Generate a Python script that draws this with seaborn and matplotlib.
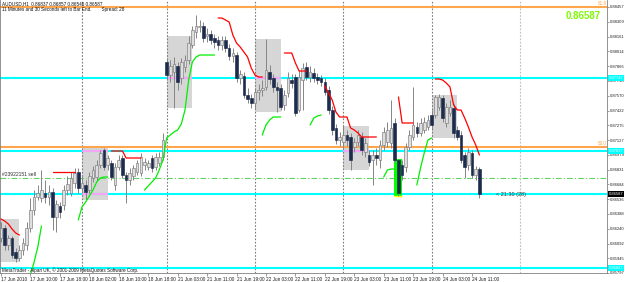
import numpy as np
import pandas as pd
import matplotlib
matplotlib.use("Agg")
import matplotlib.pyplot as plt
import matplotlib.transforms as mtransforms
from matplotlib.patches import Rectangle
import seaborn as sns

# ---------------- data ----------------
title_text = "AUDUSD,H1  0.86837 0.86857 0.86546 0.86587"
timer_text = "11 Minutes and 30 Seconds left to Bar End.        Spread: 28"
footer_text = "MetaTrader - Alpari UK, \u00a9 2001-2009 MetaQuotes Software Corp."
order_text = "#23922151 sell"
countdown_text = "< 21:30 (28)"
bid = 0.86587

open_ = [0.86147, 0.86247, 0.86077, 0.86147, 0.86007, 0.85947, 0.86027, 0.86077, 0.86247, 0.86427,
         0.86557, 0.86547, 0.86597, 0.86557, 0.86607, 0.86357, 0.86467, 0.86477, 0.86627, 0.86597,
         0.86697, 0.86807, 0.86647, 0.86677, 0.86627, 0.86747, 0.86757, 0.86877, 0.87027, 0.86877,
         0.86897, 0.86677, 0.86857, 0.86947, 0.86777, 0.86727, 0.86767, 0.86807, 0.86797, 0.86877,
         0.86857, 0.86947, 0.86857, 0.86897, 0.86957, 0.87907, 0.87777, 0.87807, 0.87867, 0.87747,
         0.87857, 0.87927, 0.88077, 0.88207, 0.88257, 0.88267, 0.88167, 0.88187, 0.88147, 0.88127,
         0.88077, 0.88127, 0.88047, 0.87967, 0.87977, 0.87747, 0.87767, 0.87577, 0.87547, 0.87497,
         0.87607, 0.87627, 0.87657, 0.87807, 0.87747, 0.87657, 0.87647, 0.87477, 0.87597, 0.87727,
         0.87757, 0.87427, 0.87727, 0.87857, 0.87757, 0.87797, 0.87757, 0.87747, 0.87707, 0.87627,
         0.87427, 0.87247, 0.87127, 0.87107, 0.87177, 0.87157, 0.87057, 0.87107, 0.87157, 0.87007,
         0.86977, 0.86927, 0.86977, 0.86927, 0.87077, 0.87107, 0.87097, 0.87297, 0.86927, 0.86877,
         0.86857, 0.87057, 0.87157, 0.87257, 0.87197, 0.87227, 0.87257, 0.87377, 0.87377, 0.87457,
         0.87547, 0.87297, 0.87397, 0.87447, 0.87227, 0.87177, 0.86977, 0.86877, 0.86997, 0.86777,
         0.86837]
high = [0.86307, 0.86277, 0.86177, 0.86167, 0.86047, 0.86077, 0.86147, 0.86307, 0.86547, 0.86627,
        0.86677, 0.86827, 0.86727, 0.86677, 0.86647, 0.86527, 0.86507, 0.86677, 0.86767, 0.86807,
        0.86847, 0.86847, 0.86777, 0.86727, 0.86807, 0.86867, 0.86927, 0.87027, 0.87047, 0.86977,
        0.86927, 0.86897, 0.86977, 0.86977, 0.86807, 0.86847, 0.86877, 0.86927, 0.86997, 0.86947,
        0.86927, 0.86977, 0.86997, 0.87007, 0.87197, 0.87947, 0.87927, 0.87957, 0.87907, 0.87947,
        0.87977, 0.88167, 0.88267, 0.88377, 0.88327, 0.88307, 0.88247, 0.88227, 0.88187, 0.88167,
        0.88167, 0.88167, 0.88087, 0.88047, 0.88007, 0.87827, 0.87807, 0.87647, 0.87587, 0.87647,
        0.87687, 0.87727, 0.88137, 0.87877, 0.87787, 0.87707, 0.87687, 0.87627, 0.87807, 0.87787,
        0.87787, 0.87827, 0.87897, 0.87907, 0.87867, 0.87847, 0.87797, 0.87777, 0.87747, 0.87667,
        0.87467, 0.87287, 0.87207, 0.87267, 0.87227, 0.87197, 0.87147, 0.87227, 0.87207, 0.87147,
        0.87027, 0.87027, 0.87047, 0.87127, 0.87257, 0.87307, 0.87527, 0.87347, 0.86937, 0.86927,
        0.87097, 0.87227, 0.87657, 0.87307, 0.87347, 0.87357, 0.87377, 0.87427, 0.87577, 0.87587,
        0.87577, 0.87497, 0.87527, 0.87487, 0.87267, 0.87217, 0.87007, 0.87047, 0.87027, 0.86867,
        0.86857]
low = [0.86107, 0.86027, 0.86027, 0.85947, 0.85907, 0.85917, 0.85977, 0.86027, 0.86207, 0.86377,
       0.86527, 0.86507, 0.86497, 0.86477, 0.86227, 0.86207, 0.86347, 0.86427, 0.86577, 0.86567,
       0.86647, 0.86597, 0.86597, 0.86527, 0.86597, 0.86707, 0.86727, 0.86847, 0.86827, 0.86827,
       0.86727, 0.86627, 0.86827, 0.86747, 0.86497, 0.86677, 0.86727, 0.86777, 0.86767, 0.86827,
       0.86827, 0.86807, 0.86827, 0.86867, 0.86927, 0.87727, 0.87707, 0.87447, 0.87627, 0.87687,
       0.87807, 0.87887, 0.88047, 0.88147, 0.88207, 0.88107, 0.88107, 0.88087, 0.88047, 0.88027,
       0.88027, 0.88007, 0.87927, 0.87907, 0.87707, 0.87687, 0.87547, 0.87497, 0.87447, 0.87447,
       0.87527, 0.87567, 0.87627, 0.87687, 0.87607, 0.87407, 0.87427, 0.87427, 0.87557, 0.87647,
       0.87367, 0.87407, 0.87427, 0.87727, 0.87707, 0.87707, 0.87687, 0.87667, 0.87577, 0.87387,
       0.87177, 0.87087, 0.87067, 0.87047, 0.87067, 0.86827, 0.87007, 0.87067, 0.86977, 0.86957,
       0.86867, 0.86677, 0.86877, 0.86847, 0.87027, 0.87057, 0.87047, 0.86907, 0.86567, 0.86727,
       0.86807, 0.87027, 0.87127, 0.87157, 0.87167, 0.87197, 0.87227, 0.87227, 0.87347, 0.87427,
       0.87307, 0.87257, 0.87367, 0.87147, 0.87127, 0.86897, 0.86747, 0.86827, 0.86747, 0.86727,
       0.86546]
close = [0.86247, 0.86077, 0.86147, 0.85977, 0.85947, 0.86027, 0.86097, 0.86247, 0.86427, 0.86557,
         0.86597, 0.86627, 0.86557, 0.86607, 0.86357, 0.86487, 0.86407, 0.86627, 0.86687, 0.86747,
         0.86797, 0.86647, 0.86697, 0.86607, 0.86767, 0.86827, 0.86877, 0.86997, 0.86857, 0.86947,
         0.86757, 0.86857, 0.86927, 0.86777, 0.86727, 0.86797, 0.86847, 0.86897, 0.86957, 0.86907,
         0.86897, 0.86847, 0.86957, 0.86957, 0.87127, 0.87777, 0.87867, 0.87887, 0.87707, 0.87907,
         0.87927, 0.88097, 0.88227, 0.88267, 0.88267, 0.88147, 0.88187, 0.88127, 0.88107, 0.88077,
         0.88127, 0.88047, 0.87967, 0.87997, 0.87747, 0.87787, 0.87577, 0.87537, 0.87497, 0.87607,
         0.87627, 0.87647, 0.87827, 0.87737, 0.87657, 0.87627, 0.87457, 0.87577, 0.87747, 0.87697,
         0.87397, 0.87757, 0.87847, 0.87757, 0.87807, 0.87747, 0.87727, 0.87707, 0.87607, 0.87427,
         0.87227, 0.87127, 0.87157, 0.87177, 0.87127, 0.86927, 0.87107, 0.87177, 0.87027, 0.87097,
         0.86907, 0.86977, 0.86947, 0.87077, 0.87207, 0.87227, 0.87247, 0.86927, 0.86597, 0.86777,
         0.87057, 0.87177, 0.87277, 0.87197, 0.87297, 0.87307, 0.87327, 0.87277, 0.87557, 0.87557,
         0.87347, 0.87457, 0.87457, 0.87197, 0.87157, 0.86927, 0.86857, 0.87007, 0.86777, 0.86837,
         0.86587]

# trailing-stop indicator segments: (first bar, values)
red_segments = [
    (0, [0.86337, 0.86317, 0.86287, 0.86237, 0.86197, 0.86177]),
    (14, [0.86807] * 7),
    (30, [0.87017, 0.87017, 0.87017, 0.87017, 0.86947, 0.86947, 0.86947, 0.86947, 0.86947]),
    (59, [0.88347, 0.88347, 0.88327, 0.88307, 0.88177, 0.88097, 0.88057, 0.88007, 0.87957,
          0.87847, 0.87777, 0.87757, 0.87757]),
    (77, [0.87997, 0.87997, 0.87997, 0.87897, 0.87817, 0.87817, 0.87817]),
    (88, [0.87667, 0.87597, 0.87527, 0.87407, 0.87357, 0.87357, 0.87357, 0.87247, 0.87227,
          0.87197, 0.87157, 0.87157, 0.87157, 0.87157, 0.87157]),
    (108, [0.87557, 0.87297, 0.87297, 0.87297, 0.87297]),
    (118, [0.87737, 0.87737, 0.87727, 0.87697, 0.87657, 0.87477, 0.87427, 0.87427, 0.87347,
           0.87257, 0.87157, 0.87077, 0.86977]),
]
green_segments = [
    (8, [0.85777, 0.85907, 0.86057, 0.86267]),
    (21, [0.86327, 0.86457, 0.86507, 0.86567, 0.86627, 0.86707, 0.86747, 0.86757, 0.86757]),
    (39, [0.86627, 0.86667, 0.86707, 0.86747, 0.86827, 0.86927, 0.87147, 0.87177, 0.87207,
          0.87227, 0.87287, 0.87427, 0.87727, 0.87907, 0.87957, 0.87977, 0.87977, 0.87977,
          0.87977, 0.87977]),
    (71, [0.87177, 0.87277, 0.87327, 0.87357, 0.87357, 0.87357]),
    (84, [0.87277, 0.87347, 0.87367, 0.87377]),
    (104, [0.86757, 0.86827, 0.86837, 0.86837]),
    (113, [0.86677, 0.86847, 0.86997, 0.87127, 0.87147]),
]

# session range boxes (first bar, bars wide, high, low)
box_start = [-2, 22, 45, 69, 93, 117]
box_bars = 7
box_hi = [0.86337, 0.87047, 0.88167, 0.88137, 0.87267, 0.87577]
box_lo = [0.85907, 0.86527, 0.87447, 0.87407, 0.86827, 0.87147]

cyan_levels = [0.87747, 0.87017, 0.86587, 0.85847]
orange_levels = [0.88462, 0.87057]
fibo_labels = ["61.8", "50.0"]
order_level = 0.86747
highlight_bar = 108
day_start_bars = [22, 45, 69, 93, 117]
future_marker_bar = 141

time_labels = ["17 Jun 2010", "17 Jun 10:00", "17 Jun 18:00", "18 Jun 02:00", "18 Jun 10:00",
               "18 Jun 18:00", "21 Jun 03:00", "21 Jun 11:00", "21 Jun 19:00", "22 Jun 03:00",
               "22 Jun 11:00", "22 Jun 19:00", "23 Jun 03:00", "23 Jun 11:00", "23 Jun 19:00",
               "24 Jun 03:00", "24 Jun 11:00"]
time_label_step = 8
price_ticks = [0.88457, 0.88309, 0.88161, 0.88014, 0.87866, 0.87718, 0.87570, 0.87422,
               0.87275, 0.87127, 0.86979, 0.86831, 0.86684, 0.86536, 0.86388, 0.86240,
               0.86092, 0.85945, 0.85797]

# ---------------- style ----------------
sns.set_theme(style="white")
plt.rcParams["font.family"] = ["Liberation Sans", "DejaVu Sans"]

W, H = 625, 282
fig = plt.figure(figsize=(W / 100, H / 100), dpi=100)
fig.patch.set_facecolor("white")
ax = fig.add_axes([0 / W, (H - 273) / H, 607 / W, 273 / H])
ax.set_facecolor("white")
ax.set_ylim(0.85797, 0.88527)
ax.set_xlim(-0.272, 164.67)

n = len(close)
xs = np.arange(n)
o = np.array(open_); c = np.array(close); hi = np.array(high); lo = np.array(low)

# session boxes
for s, bh, bl in zip(box_start, box_hi, box_lo):
    ax.add_patch(Rectangle((s, bl), box_bars, bh - bl, facecolor="#d6d6d6",
                           edgecolor="none", zorder=1))

# day separators
for d in day_start_bars:
    ax.axvline(d, color="#7a7a7a", lw=0.8, ls=(0, (1.5, 1.5)), zorder=1.5)
ax.axvline(future_marker_bar, color="#bdbdbd", lw=0.8, ls=(0, (1.5, 1.5)), zorder=1.5)

# horizontal levels
for lv in cyan_levels:
    ax.axhline(lv, color="#00ffff", lw=1.5, zorder=2)
for s, bh, bl in zip(box_start, box_hi, box_lo):
    for lv in cyan_levels:
        if bl <= lv <= bh:
            ax.hlines(lv, s, s + box_bars, color="#f4a6f4", lw=1.5, zorder=2.1)
for lv in orange_levels:
    ax.axhline(lv, color="#ffa64d", lw=1.5, zorder=2)
ax.axhline(order_level, color="#5fd35f", lw=0.8, ls=(0, (5, 2, 1, 2)), zorder=2)

# highlighted bar
hb = highlight_bar
ax.add_patch(Rectangle((hb - 1.1, lo[hb]), 2.2, hi[hb] - lo[hb], facecolor="#00ff00",
                       edgecolor="none", zorder=2.5))
ax.hlines(lo[hb], hb - 1.1, hb + 1.1, color="#ffff00", lw=1.0, zorder=2.6)

# candles
ax.vlines(xs, lo, hi, color="#858585", lw=0.7, zorder=3)
bull = c >= o
body_lo = np.minimum(o, c)
body_h = np.maximum(np.abs(c - o), 0.00005)
ax.bar(xs[bull], body_h[bull], bottom=body_lo[bull], width=0.72, color="#dedede",
       edgecolor="#7c7c7c", linewidth=0.45, zorder=3.2)
ax.bar(xs[~bull], body_h[~bull], bottom=body_lo[~bull], width=0.72, color="#1d2b4c",
       edgecolor="#1d2b4c", linewidth=0.45, zorder=3.2)

# indicator lines via seaborn
def seg_frame(segments):
    rows = []
    for k, (start, vals) in enumerate(segments):
        for j, v in enumerate(vals):
            rows.append({"bar": start + j, "price": v, "seg": k})
    return pd.DataFrame(rows)

sns.lineplot(data=seg_frame(red_segments), x="bar", y="price", units="seg", estimator=None,
             color="#ff0000", lw=0.9, ax=ax, legend=False, zorder=5)
sns.lineplot(data=seg_frame(green_segments), x="bar", y="price", units="seg", estimator=None,
             color="#00ee00", lw=0.9, ax=ax, legend=False, zorder=5)
ax.set_xlabel("")
ax.set_ylabel("")

# axes cosmetics
ax.set_xticks(np.arange(len(time_labels)) * time_label_step)
ax.set_xticklabels(time_labels, ha="left", fontsize=3.4, color="#202020")
ax.yaxis.tick_right()
ax.set_yticks(price_ticks)
ax.set_yticklabels([f"{v:.5f}" for v in price_ticks], fontsize=3.0, color="#202020")
ax.tick_params(axis="x", length=2, width=0.5, pad=0.6, color="#707070", bottom=True)
ax.tick_params(axis="y", length=1.5, width=0.5, pad=0.3, color="#707070", right=True, left=False)
ax.set_ylim(0.85797, 0.88527)
ax.set_xlim(-0.272, 164.67)
for side in ["left", "right", "bottom"]:
    ax.spines[side].set_visible(True)
    ax.spines[side].set_color("#808080")
    ax.spines[side].set_linewidth(0.6)
ax.spines["top"].set_visible(False)

blend = mtransforms.blended_transform_factory(ax.transAxes, ax.transData)
for lv in cyan_levels:
    ax.text(1.003, lv, f"{lv:.5f}", transform=blend, fontsize=3.0, color="#f0ffff",
            ha="left", va="center", zorder=10, clip_on=False,
            bbox=dict(facecolor="#00ffff", edgecolor="none", pad=0.5))
ax.text(1.003, bid, f"{bid:.5f}", transform=blend, fontsize=3.0, color="white",
        ha="left", va="center", zorder=11, clip_on=False,
        bbox=dict(facecolor="black", edgecolor="none", pad=0.5))
for lv, lab in zip(orange_levels, fibo_labels):
    ax.text(0.985, lv + 0.00008, lab, transform=blend, fontsize=3.3, color="#ffa64d",
            ha="left", va="bottom", zorder=6)

ax.text(0.004, order_level + 0.00015, order_text, transform=blend, fontsize=3.6,
        color="#303030", ha="left", va="bottom", zorder=6)
ax.text(n - 1 + 4.6, bid - 0.0001, countdown_text, fontsize=4.0, color="#333333",
        ha="left", va="center", zorder=6)

fig.text(2 / W, 1 - 3.5 / H, title_text, fontsize=3.3, color="#101010", ha="left", va="center")
fig.text(2 / W, 1 - 10 / H, timer_text, fontsize=3.3, color="#101010", ha="left", va="center")
fig.text(566 / W, 1 - 16 / H, f"{bid:.5f}", fontsize=7, fontweight="bold", color="#7cfc00",
         ha="left", va="center")
fig.text(2 / W, (H - 270.5) / H, footer_text, fontsize=3.3, color="#101010", ha="left", va="center")

fig.savefig("out.png", dpi=100, facecolor="white")
